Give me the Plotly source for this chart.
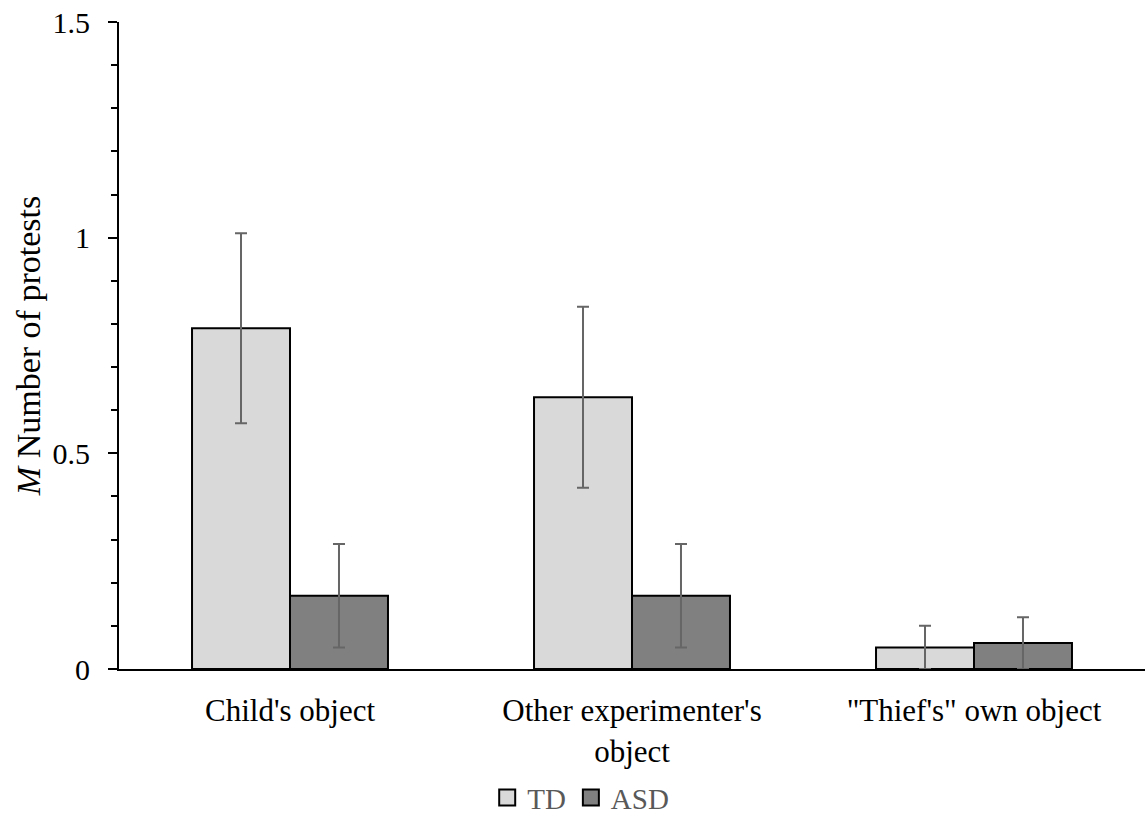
import plotly.graph_objects as go

categories = ["Child's object", "Other experimenter's<br>object", "\"Thief's\" own object"]
td_means = [0.79, 0.63, 0.05]
td_err = [0.22, 0.21, 0.05]
asd_means = [0.17, 0.17, 0.06]
asd_err = [0.12, 0.12, 0.06]
y_tickvals = [0, 0.5, 1, 1.5]
y_ticktext = ["0", "0.5", "1", "1.5"]
series_names = ["TD", "ASD"]
series_colors = ["#d9d9d9", "#808080"]

FONT = "Liberation Serif"

fig = go.Figure()
for name, means, errs, col in zip(series_names, [td_means, asd_means], [td_err, asd_err], series_colors):
    fig.add_trace(go.Bar(
        name=name, x=categories, y=means, showlegend=False,
        marker=dict(color=col, line=dict(color="black", width=2)),
        error_y=dict(type="data", array=errs, visible=True, color="#666666", thickness=2, width=6),
    ))
# legend entries with square swatches
for name, col in zip(series_names, series_colors):
    fig.add_trace(go.Scatter(
        name=name, x=[None], y=[None], mode="markers",
        marker=dict(symbol="square", size=16, color=col, line=dict(color="black", width=2)),
    ))

fig.update_layout(
    width=1145, height=821,
    margin=dict(l=119, r=0, t=22, b=152, autoexpand=False),
    paper_bgcolor="white", plot_bgcolor="white",
    barmode="group", bargap=0.427, bargroupgap=0,
    font=dict(family=FONT, size=30, color="black"),
    showlegend=True,
    legend=dict(orientation="h", x=0.45, xanchor="center", y=-0.199, yanchor="middle",
                font=dict(family=FONT, size=29, color="#595959"),
                itemwidth=30, traceorder="normal", itemsizing="trace",
                borderwidth=0, bgcolor="rgba(0,0,0,0)"),
)
fig.update_xaxes(
    showline=True, linecolor="black", linewidth=2, ticks="", showgrid=False,
    tickfont=dict(family=FONT, size=31, color="black"), ticklabelstandoff=13,
    automargin=False,
)
fig.update_yaxes(
    range=[0, 1.5], tickvals=y_tickvals, ticktext=y_ticktext,
    showline=True, linecolor="black", linewidth=2, showgrid=False, zeroline=False,
    ticks="outside", ticklen=9, tickwidth=2, tickcolor="black",
    minor=dict(dtick=0.1, ticks="outside", ticklen=6, tickwidth=2, tickcolor="black", showgrid=False),
    tickfont=dict(family=FONT, size=30, color="black"), ticklabelstandoff=12,
    title=dict(text="<i>M</i> Number of protests", font=dict(family=FONT, size=34, color="black"), standoff=2),
    automargin=False,
)

fig.write_html("out.html", config={"displayModeBar": False},
               post_script="document.body.style.margin='0';document.body.style.padding='0';")
